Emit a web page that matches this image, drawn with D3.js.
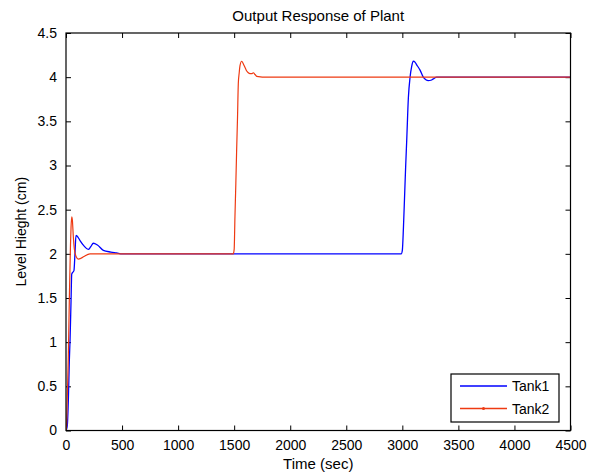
<!DOCTYPE html>
<html>
<head>
<meta charset="utf-8">
<script src="https://cdn.jsdelivr.net/npm/d3@7"></script>
<style>
  html, body { margin: 0; padding: 0; background: #fff; }
  svg { display: block; font-family: Arial, "Liberation Sans", sans-serif; }
</style>
</head>
<body>
<svg id="chart" width="597" height="475"></svg>
<script>
// ---- data ----
const time1 = [0,6,12,21,30,36,45,51,60,71,80,89,100,125,160,199,220,244,280,333,400,452,500,1000,2000,2990,3000,3010,3020,3030,3039,3054,3069,3083,3098,3113,3128,3158,3187,3210,3232,3255,3276,3306,3400,4500];
const tank1 = [0,0.02,0.06,0.34,0.8,1.02,1.47,1.77,1.79,1.81,2.0,2.21,2.2,2.15,2.09,2.05,2.08,2.12,2.1,2.04,2.02,2.01,2.0,2.0,2.0,2.0,2.04,2.3,2.65,3.0,3.28,3.77,4.0,4.12,4.18,4.17,4.14,4.08,4.0,3.97,3.96,3.965,3.98,4.0,4.0,4.0];
const time2 = [0,5,10,20,30,40,45,51,57,65,75,90,110,134,160,214,500,1000,1492,1500,1507,1515,1522,1530,1537,1545,1552,1567,1582,1597,1612,1626,1641,1656,1671,1686,1701,1800,4500];
const tank2 = [0,0.05,0.3,0.8,1.5,2.1,2.3,2.42,2.38,2.2,2.05,1.97,1.94,1.95,1.97,2.0,2.0,2.0,2.0,2.05,2.42,2.8,3.17,3.55,3.93,4.05,4.13,4.18,4.15,4.11,4.07,4.05,4.04,4.04,4.05,4.03,4.01,4.0,4.0];
const xTicks = [0,500,1000,1500,2000,2500,3000,3500,4000,4500];
const yTicks = [0,0.5,1,1.5,2,2.5,3,3.5,4,4.5];
const seriesNames = ["Tank1","Tank2"];
const colors = ["#0000ff","#ee3a12"];
const title = "Output Response of Plant";
const xLabel = "Time (sec)";
const yLabel = "Level Hieght (cm)";

// ---- layout ----
const svg = d3.select("#chart");
const L = 66, R = 570.5, T = 33, B = 430.5;
const x = d3.scaleLinear().domain([0,4500]).range([L,R]);
const y = d3.scaleLinear().domain([0,4.5]).range([B,T]);

const tickLen = 5;
const gx = svg.append("g").attr("transform",`translate(0,${B})`)
  .call(d3.axisBottom(x).tickValues(xTicks).tickFormat(d3.format("d")).tickSizeInner(-tickLen).tickSizeOuter(0).tickPadding(10));
const gxt = svg.append("g").attr("transform",`translate(0,${T})`)
  .call(d3.axisTop(x).tickValues(xTicks).tickFormat("").tickSizeInner(-tickLen).tickSizeOuter(0));
const gy = svg.append("g").attr("transform",`translate(${L},0)`)
  .call(d3.axisLeft(y).tickValues(yTicks).tickFormat(d => d3.format("")(d)).tickSizeInner(-tickLen).tickSizeOuter(0).tickPadding(9));
const gyr = svg.append("g").attr("transform",`translate(${R},0)`)
  .call(d3.axisRight(y).tickValues(yTicks).tickFormat("").tickSizeInner(-tickLen).tickSizeOuter(0));

[gx,gxt,gy,gyr].forEach(g => {
  g.select(".domain").remove();
  g.selectAll("line").attr("stroke","#000").attr("stroke-width",1);
  g.selectAll("text").attr("font-size",14).attr("fill","#000").attr("font-family","Arial, 'Liberation Sans', sans-serif");
});

// data lines
const line = d3.line().x(d => x(d[0])).y(d => y(d[1])).curve(d3.curveMonotoneX);
svg.append("clipPath").attr("id","clip").append("rect")
  .attr("x",L).attr("y",T).attr("width",R-L).attr("height",B-T);
const plot = svg.append("g").attr("clip-path","url(#clip)");
plot.append("path").datum(time1.map((t,i)=>[t,tank1[i]]))
  .attr("d",line).attr("fill","none").attr("stroke",colors[0]).attr("stroke-width",1.3);
plot.append("path").datum(time2.map((t,i)=>[t,tank2[i]]))
  .attr("d",line).attr("fill","none").attr("stroke",colors[1]).attr("stroke-width",1.2);

// box
svg.append("rect").attr("x",L).attr("y",T).attr("width",R-L).attr("height",B-T)
  .attr("fill","none").attr("stroke","#000").attr("stroke-width",1.2);

// title & labels
svg.append("text").attr("x",(L+R)/2).attr("y",21).attr("text-anchor","middle")
  .attr("font-size",15).text(title);
svg.append("text").attr("x",(L+R)/2).attr("y",469).attr("text-anchor","middle")
  .attr("font-size",15).text(xLabel);
svg.append("text").attr("transform",`translate(26,${(T+B)/2}) rotate(-90)`).attr("text-anchor","middle")
  .attr("font-size",14).text(yLabel);

// legend
const lg = svg.append("g");
lg.append("rect").attr("x",451).attr("y",374).attr("width",108).attr("height",48)
  .attr("fill","#fff").attr("stroke","#000").attr("stroke-width",1.2);
seriesNames.forEach((name,i) => {
  const ly = 386 + i*22.5;
  lg.append("line").attr("x1",460).attr("x2",507).attr("y1",ly).attr("y2",ly)
    .attr("stroke",colors[i]).attr("stroke-width",1.3);
  if (i === 1) lg.append("circle").attr("cx",483.5).attr("cy",ly).attr("r",1.5).attr("fill",colors[i]);
  lg.append("text").attr("x",512).attr("y",ly+5).attr("font-size",14).text(name);
});
</script>
</body>
</html>
